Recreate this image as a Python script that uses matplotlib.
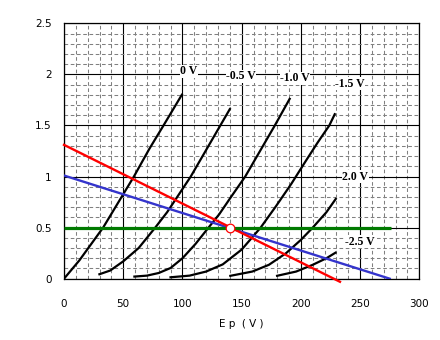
import matplotlib
matplotlib.use("Agg")
import matplotlib.pyplot as plt
from matplotlib.ticker import MultipleLocator

# Plate curves (Ep in V, Ip in mA) for each grid voltage
ep_0v = [0, 13, 33, 46, 59, 72, 84, 100]
ip_0v = [0, 0.18, 0.5, 0.75, 1.0, 1.27, 1.5, 1.81]

ep_m05 = [29, 39, 50, 63, 77, 87, 95, 107, 119, 132, 140.5]
ip_m05 = [0.04, 0.08, 0.17, 0.30, 0.5, 0.65, 0.79, 1.0, 1.24, 1.5, 1.67]

ep_m10 = [58.5, 70, 80, 90, 100, 111, 122, 131, 141, 153, 165, 178, 191]
ip_m10 = [0.02, 0.03, 0.056, 0.105, 0.2, 0.34, 0.5, 0.63, 0.8, 1.0, 1.24, 1.5, 1.77]

ep_m15 = [89, 106, 120, 134, 150, 166, 179, 192, 204, 214, 224, 229]
ip_m15 = [0.013, 0.03, 0.07, 0.14, 0.285, 0.5, 0.71, 0.93, 1.15, 1.33, 1.5, 1.62]

ep_m20 = [139.5, 159, 173, 187.5, 200, 210, 221.5, 230]
ip_m20 = [0.026, 0.07, 0.136, 0.25, 0.38, 0.5, 0.65, 0.79]

ep_m25 = [179, 196, 210, 221.5, 230]
ip_m25 = [0.026, 0.07, 0.136, 0.2, 0.26]

curves_ep = [ep_0v, ep_m05, ep_m10, ep_m15, ep_m20, ep_m25]
curves_ip = [ip_0v, ip_m05, ip_m10, ip_m15, ip_m20, ip_m25]

curve_labels = ["0 V", "-0.5 V", "-1.0 V", "-1.5 V", "2.0 V", "-2.5 V"]
label_x = [98, 137, 182.5, 229, 235, 237.5]
label_y = [2.03, 1.98, 1.96, 1.91, 1.0, 0.36]

# Load lines
red_ep = [0, 233]
red_ip = [1.31, -0.03]
blue_ep = [0, 275]
blue_ip = [1.01, 0.0]
green_ep = [0, 276]
green_ip = [0.5, 0.5]

q_ep = [140]
q_ip = [0.5]

x_ticks = [0, 50, 100, 150, 200, 250, 300]
y_ticks = [0, 0.5, 1, 1.5, 2, 2.5]
y_tick_labels = ["0", "0.5", "1", "1.5", "2", "2.5"]

fig = plt.figure(figsize=(4.4, 3.4), dpi=100)
ax = fig.add_axes([0.1455, 0.1803, 0.8075, 0.7512])
ax.set_xlim(0, 300)
ax.set_ylim(0, 2.5)

ax.xaxis.set_minor_locator(MultipleLocator(10))
ax.yaxis.set_minor_locator(MultipleLocator(0.1))
ax.set_xticks(x_ticks)
ax.set_yticks(y_ticks)
ax.set_yticklabels(y_tick_labels)
ax.grid(which="minor", color="#808080", linestyle=(0, (3.5, 2.5)), linewidth=0.75)
ax.grid(which="major", color="black", linestyle="-", linewidth=0.8)
ax.set_axisbelow(True)
ax.tick_params(which="both", length=0)
ax.tick_params(axis="x", pad=14.5, labelsize=7.5)
ax.tick_params(axis="y", pad=9, labelsize=7.5)
for sp in ax.spines.values():
    sp.set_color("black")
    sp.set_linewidth(0.9)

for xs, ys in zip(curves_ep, curves_ip):
    ax.plot(xs, ys, color="black", linewidth=1.6, zorder=3, solid_capstyle="butt",
            solid_joinstyle="round")

ax.plot(blue_ep, blue_ip, color="#3434cc", linewidth=1.7, zorder=4)
ax.plot(red_ep, red_ip, color="#ff0000", linewidth=1.7, zorder=5, clip_on=False)
ax.plot(green_ep, green_ip, color="#007a00", linewidth=2.3, zorder=6, solid_capstyle="butt")
ax.plot(q_ep, q_ip, marker="o", markersize=6.2, markerfacecolor="white",
        markeredgecolor="#ff0000", markeredgewidth=0.9, linestyle="none", zorder=7)

for t, lx, ly in zip(curve_labels, label_x, label_y):
    ax.text(lx, ly, t, ha="left", va="center", fontsize=8.5, fontweight="bold",
            family="Liberation Serif", zorder=8,
            bbox=dict(facecolor="white", edgecolor="none", pad=0.3))

ax.set_xlabel("E p  ( V )", fontsize=7.5, labelpad=7)

fig.savefig("out.png", dpi=100)
